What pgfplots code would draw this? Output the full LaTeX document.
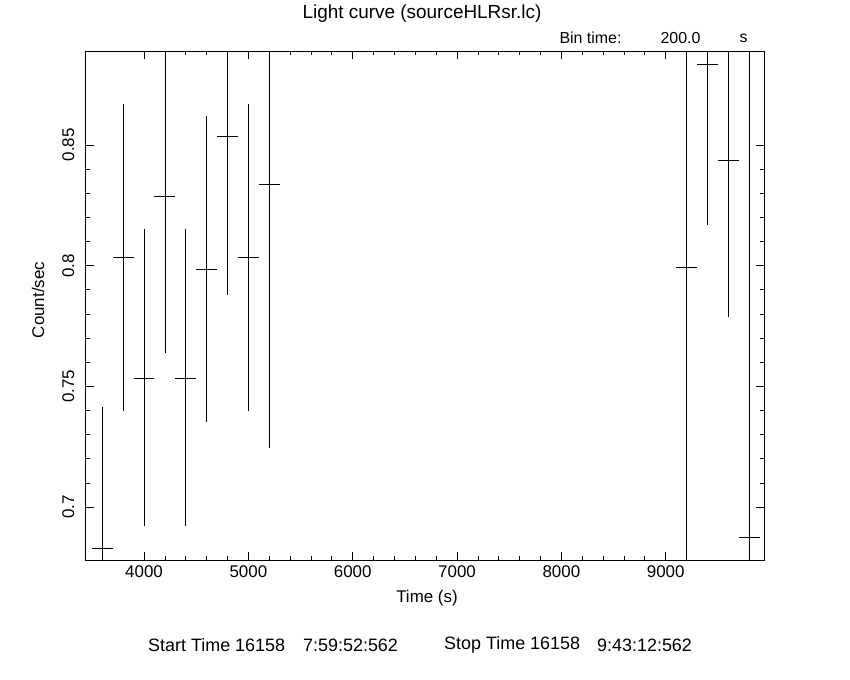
\documentclass[border=0pt]{standalone}
\usepackage{pgfplots}
\pgfplotsset{compat=1.18}
\usepackage{fontspec}
\setmainfont{Liberation Sans}
\pgfplotstableread{
x y ex ey
3600 0.683 100 0.0585
3800 0.8034 100 0.0634
4000 0.7535 100 0.0615
4200 0.8285 100 0.0645
4400 0.7535 100 0.0615
4600 0.7985 100 0.0633
4800 0.8534 100 0.0654
5000 0.8034 100 0.0634
5200 0.8335 100 0.109
9200 0.7992 100 0.125
9400 0.8835 100 0.0666
9600 0.8436 100 0.065
9800 0.6876 100 0.22
}\lc
\begin{document}
\begin{tikzpicture}[x=1bp,y=1bp,font=\fontsize{17}{20}\selectfont]
\path[use as bounding box] (0,0) rectangle (850,680);
\begin{axis}[
  at={(85.5bp,119.5bp)}, anchor=south west,
  scale only axis, width=678.5bp, height=509bp,
  xmin=3439, xmax=9942, ymin=0.6779, ymax=0.8887,
  xtick={4000,5000,6000,7000,8000,9000},
  xticklabels={4000,5000,6000,7000,8000,9000},
  minor x tick num=4,
  ytick={0.7,0.75,0.8,0.85},
  yticklabels={0.7,0.75,0.8,0.85},
  minor y tick num=4,
  tick align=inside, xtick pos=both, ytick pos=both,
  major tick length=8bp, minor tick length=4bp,
  tick label style={font=\fontsize{17}{20}\selectfont},
  xticklabel style={anchor=north, inner sep=5bp},
  yticklabel style={rotate=90, anchor=south, inner sep=11bp},
  axis line style={line width=0.8bp},
  every tick/.style={black, line width=0.8bp},
]
\addplot[draw=none, mark=none,
  error bars/.cd, x dir=both, x explicit, y dir=both, y explicit,
  error mark=none, error bar style={draw=black, solid, line width=0.8bp}]
  table[x=x, y=y, x error=ex, y error=ey] {\lc};
\end{axis}
\node[font=\fontsize{19}{22}\selectfont] at (422,666) {Light curve (sourceHLRsr.lc)};
\begin{scope}[font=\fontsize{16}{19}\selectfont]
\node[anchor=west] at (556,642) {Bin time:};
\node[anchor=west] at (657,642) {200.0};
\node[anchor=west] at (736,642) {s};
\end{scope}
\node at (427,82) {Time (s)};
\node[rotate=90] at (38,380) {Count/sec};
\begin{scope}[font=\fontsize{18}{22}\selectfont]
\node[anchor=west, inner sep=0pt] at (148,35) {Start Time 16158};
\node[anchor=west, inner sep=0pt] at (303,35) {7:59:52:562};
\node[anchor=west, inner sep=0pt] at (444,35) {Stop Time 16158};
\node[anchor=west, inner sep=0pt] at (597,35) {9:43:12:562};
\end{scope}
\end{tikzpicture}
\end{document}
